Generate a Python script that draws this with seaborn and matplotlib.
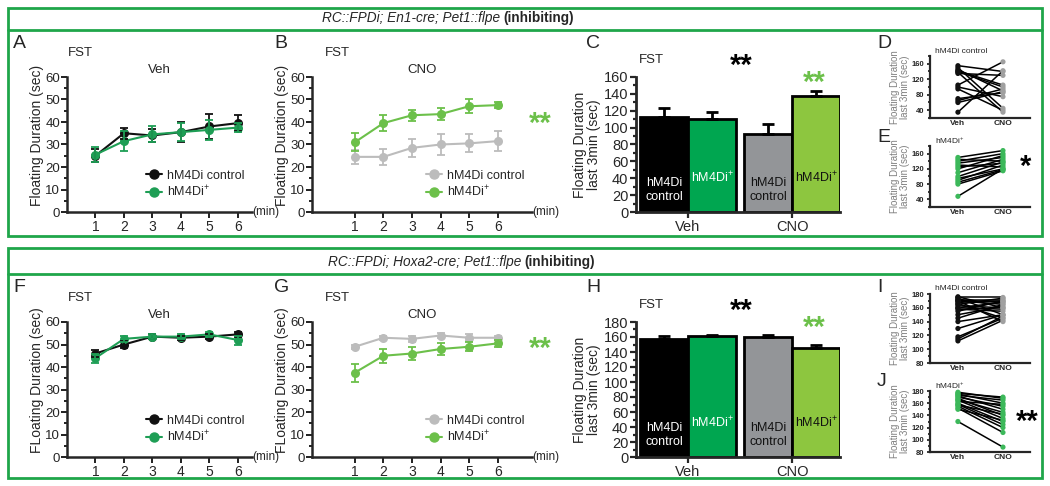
import pandas as pd
import matplotlib
matplotlib.use('Agg')
import matplotlib.pyplot as plt
import seaborn as sns
from matplotlib.lines import Line2D
from matplotlib.patches import Rectangle
from matplotlib.ticker import MultipleLocator
from matplotlib.transforms import blended_transform_factory

sns.set_style('ticks')
plt.rcParams['font.family'] = ['Liberation Sans', 'DejaVu Sans']
plt.rcParams['mathtext.fontset'] = 'custom'
plt.rcParams['mathtext.rm'] = 'Liberation Sans'
plt.rcParams['mathtext.default'] = 'regular'

W, H = 1050, 486

# ---- data ----
minutes = [1, 2, 3, 4, 5, 6]

# A: En1, Veh
a_ctrl = [25, 35, 34, 35.5, 38, 39.5]
a_ctrl_err = [3, 2.5, 3, 4.5, 5.5, 3.5]
a_plus = [25.5, 31.5, 34.5, 35.5, 36.5, 37.5]
a_plus_err = [3.5, 4.5, 3.5, 4, 4.5, 2]
# B: En1, CNO
b_ctrl = [24.5, 24.5, 28.5, 30, 30.5, 31.5]
b_ctrl_err = [3, 3.5, 4, 4.5, 4, 4.5]
b_plus = [31, 39.5, 43, 43.5, 47, 47.5]
b_plus_err = [4, 3.5, 2.5, 2.5, 3, 1.5]
# F: Hoxa2, Veh
f_ctrl = [46, 50, 53.5, 53, 53.5, 54.5]
f_ctrl_err = [1.5, 1.5, 1, 1, 1, 1]
f_plus = [44, 52.5, 53.5, 53.5, 54.5, 52]
f_plus_err = [2, 1.5, 1, 1, 1, 2]
# G: Hoxa2, CNO
g_ctrl = [49, 53, 52.5, 54, 53, 53]
g_ctrl_err = [1, 1, 1.5, 1, 1.5, 1]
g_plus = [37.5, 45, 46, 48, 49, 50.5]
g_plus_err = [4, 3, 3, 2.5, 2, 1.5]

# C / H: last 3 min bars (Veh control, Veh plus, CNO control, CNO plus)
bar_conds = ['Veh', 'Veh', 'CNO', 'CNO']
bar_groups = ['control', 'plus', 'control', 'plus']
c_means = [113, 110, 92, 138]
c_errs = [10, 9, 12, 5]
h_means = [158, 161, 160, 145]
h_errs = [3, 2, 2, 5]

# D/E/I/J: individual animals, Veh -> CNO
d_veh = [155, 150, 145, 142, 140, 138, 135, 105, 100, 95, 70, 65, 60, 35]
d_cno = [140, 45, 90, 105, 100, 35, 130, 165, 75, 40, 85, 95, 88, 142]
e_veh = [150, 145, 140, 135, 130, 125, 120, 110, 100, 95, 90, 85, 80, 48]
e_cno = [168, 140, 160, 150, 125, 135, 155, 145, 138, 120, 130, 118, 115, 120]
i_veh = [176, 175, 174, 172, 171, 170, 168, 166, 165, 163, 160, 158, 155, 150,
         145, 140, 130, 118, 115, 112, 170, 160]
i_cno = [160, 175, 150, 172, 168, 165, 170, 145, 174, 160, 158, 155, 170, 162,
         165, 150, 150, 145, 148, 142, 140, 168]
j_veh = [178, 176, 175, 173, 172, 170, 168, 166, 165, 163, 160, 158, 157, 155,
         152, 150, 130]
j_cno = [168, 170, 160, 165, 150, 155, 140, 145, 135, 158, 130, 125, 142, 120,
         112, 132, 88]

BLACK = '#111111'
DKGREEN = '#1e9e55'
LTGREEN = '#6cc04a'
GRAY = '#bcbcbc'
BOX = '#1fa64a'
PLUS = 'hM4Di$^{+}$'

fig = plt.figure(figsize=(W / 100, H / 100), dpi=100)


def px_axes(l, t, r, b):
    return fig.add_axes([l / W, 1 - b / H, (r - l) / W, (b - t) / H])


def ftext(x, y, s, **kw):
    fig.text(x / W, 1 - y / H, s, **kw)


def style(ax, lw=1.8, size=9, length=4):
    sns.despine(ax=ax)
    for s in ['left', 'bottom']:
        ax.spines[s].set_linewidth(lw)
    ax.tick_params(width=lw * 0.8, length=length, labelsize=size, pad=1.5)
    ax.tick_params(which='minor', width=lw * 0.8, length=length * 0.6)


def time_panel(ax, ctrl, ctrl_err, plus, plus_err, cc, pc, title, ylabel, xlim):
    df = pd.DataFrame({'min': minutes * 2, 'value': ctrl + plus,
                       'group': ['ctrl'] * 6 + ['plus'] * 6})
    sns.lineplot(data=df, x='min', y='value', hue='group',
                 palette={'ctrl': cc, 'plus': pc}, marker='o', markersize=6.5,
                 markeredgewidth=0, linewidth=1.5, legend=False, ax=ax)
    for vals, err, c in [(ctrl, ctrl_err, cc), (plus, plus_err, pc)]:
        ax.errorbar(minutes, vals, yerr=err, fmt='none', ecolor=c,
                    elinewidth=1.3, capsize=3, capthick=1.3)
    ax.set_xlim(*xlim)
    ax.set_ylim(0, 60)
    ax.set_xticks(minutes)
    ax.yaxis.set_major_locator(MultipleLocator(10))
    ax.yaxis.set_minor_locator(MultipleLocator(5))
    style(ax, size=10)
    ax.tick_params(axis='y', pad=1, labelsize=9.5)
    ax.set_xlabel('')
    ax.set_ylabel(ylabel, fontsize=10, labelpad=0.5)
    ax.yaxis.label.set_y(0.57)
    ax.set_title(title, fontsize=9.5, pad=3)
    ax.text(1.0, 0, '(min)', transform=ax.transAxes, fontsize=8.5,
            ha='left', va='center')
    handles = [Line2D([0], [0], color=cc, marker='o', markersize=6.5, lw=1.5),
               Line2D([0], [0], color=pc, marker='o', markersize=6.5, lw=1.5)]
    ax.legend(handles, ['hM4Di control', PLUS], loc='lower right',
              bbox_to_anchor=(1.0, 0.04), frameon=False, fontsize=9,
              handlelength=1.3, handletextpad=0.4, labelspacing=0.2,
              borderaxespad=0.2)


def bar_panel(ax, means, errs, ylim, step):
    df = pd.DataFrame({'cond': bar_conds, 'group': bar_groups, 'value': means,
                       'err': errs})
    order = ['Veh', 'CNO']
    hue_order = ['control', 'plus']
    sns.barplot(data=df, x='cond', y='value', hue='group', order=order,
                hue_order=hue_order, width=0.92, edgecolor='black',
                linewidth=2, errorbar=None, legend=False, ax=ax)
    fills = {('Veh', 'control'): '#000000', ('Veh', 'plus'): '#00a650',
             ('CNO', 'control'): '#939598', ('CNO', 'plus'): '#8dc63f'}
    tcol = {('Veh', 'control'): 'white', ('Veh', 'plus'): 'white',
            ('CNO', 'control'): '#111111', ('CNO', 'plus'): '#111111'}
    trans = blended_transform_factory(ax.transData, ax.transAxes)
    for g, cont in zip(hue_order, ax.containers):
        for cond, bar in zip(order, cont):
            bar.set_facecolor(fills[(cond, g)])
            row = df[(df['cond'] == cond) & (df['group'] == g)].iloc[0]
            xc = bar.get_x() + bar.get_width() / 2
            ax.errorbar([xc], [row['value']], yerr=[[0], [row['err']]],
                        fmt='none', ecolor='black', elinewidth=2, capsize=4,
                        capthick=2, zorder=1)
            if g == 'control':
                ax.text(xc, 0.165, 'hM4Di\ncontrol', transform=trans,
                        ha='center', va='center', fontsize=9,
                        color=tcol[(cond, g)], linespacing=1.2)
            else:
                ax.text(xc, 0.25, PLUS, transform=trans, ha='center',
                        va='center', fontsize=9, color=tcol[(cond, g)])
    ax.set_xlim(-0.5, 1.46)
    ax.set_ylim(*ylim)
    ax.yaxis.set_major_locator(MultipleLocator(step))
    ax.yaxis.set_minor_locator(MultipleLocator(step / 2))
    style(ax, lw=2, size=10.5)
    ax.tick_params(axis='x', labelsize=10.5, pad=2)
    ax.set_xlabel('')
    ax.set_ylabel('Floating Duration\nlast 3min (sec)', fontsize=10,
                  labelpad=2, linespacing=1.0)


def paired_panel(ax, veh, cno, vcol, ccol, ylim, step, title):
    n = len(veh)
    conds = ['Veh', 'CNO']
    df = pd.DataFrame({'subject': list(range(n)) * 2,
                       'cond': ['Veh'] * n + ['CNO'] * n,
                       'value': veh + cno})
    df['x'] = df['cond'].map({c: i for i, c in enumerate(conds)})
    sns.lineplot(data=df, x='x', y='value', units='subject', estimator=None,
                 color='black', lw=1.1, ax=ax)
    sns.scatterplot(data=df, x='x', y='value', hue='cond',
                    palette={'Veh': vcol, 'CNO': ccol}, s=14, linewidth=0,
                    legend=False, ax=ax, zorder=3, clip_on=False)
    ax.set_xlim(-0.62, 1.6)
    ax.set_ylim(*ylim)
    ax.set_xticks([0, 1])
    ax.set_xticklabels(conds)
    ax.yaxis.set_major_locator(MultipleLocator(step))
    ax.yaxis.set_minor_locator(MultipleLocator(step / 2))
    style(ax, lw=1.6, size=5.5, length=2.5)
    ax.tick_params(axis='x', length=0, pad=1.5, labelsize=6)
    for lab in ax.get_xticklabels() + ax.get_yticklabels():
        lab.set_fontweight('bold')
    ax.set_xlabel('')
    ax.set_ylabel('Floating Duration\nlast 3min (sec)', fontsize=7,
                  color='#808080', labelpad=1, linespacing=1.0)
    ax.text(0.05, 1.08, title, transform=ax.transAxes, fontsize=6,
            ha='left', va='center')


# ---- frames and headers ----
for top, bot, hline in [(8, 236, 30), (248, 478, 274)]:
    fig.add_artist(Rectangle((8 / W, 1 - bot / H), 1034 / W, (bot - top) / H,
                             transform=fig.transFigure, fill=False,
                             edgecolor=BOX, lw=2))
    fig.add_artist(Line2D([8 / W, 1042 / W], [1 - hline / H, 1 - hline / H],
                          transform=fig.transFigure, color=BOX, lw=2))

ftext(500, 18, 'RC::FPDi; En1-cre; Pet1::flpe', style='italic', fontsize=9.8,
      ha='right', va='center')
ftext(503, 18, '(inhibiting)', fontweight='bold', fontsize=9.8, ha='left',
      va='center')
ftext(521, 262, 'RC::FPDi; Hoxa2-cre; Pet1::flpe', style='italic',
      fontsize=9.8, ha='right', va='center')
ftext(524, 262, '(inhibiting)', fontweight='bold', fontsize=9.8, ha='left',
      va='center')

for dy, letters in [(0, 'ABCDE'), (245, 'FGHIJ')]:
    for (x, y), L in zip([(13, 43), (274, 43), (586, 43), (877, 43),
                          (877, 137)], letters):
        ftext(x, y + dy, L, fontsize=14, ha='left', va='center')
    for x, y in [(68, 53), (325, 53), (639, 60)]:
        ftext(x, y + dy, 'FST', fontsize=9.5, ha='left', va='center')

# ---- top row ----
ax = px_axes(67, 77, 252, 212)
time_panel(ax, a_ctrl, a_ctrl_err, a_plus, a_plus_err, BLACK, DKGREEN,
           'Veh', 'Floating Duration (sec)', (0, 6.5))
ax = px_axes(312, 77, 532, 212)
time_panel(ax, b_ctrl, b_ctrl_err, b_plus, b_plus_err, GRAY, LTGREEN,
           'CNO', 'Floating Duration (sec)', (-0.5, 7.2))
ax = px_axes(636, 77, 840, 212)
bar_panel(ax, c_means, c_errs, (0, 160), 20)
ax = px_axes(930, 56, 1030, 118)
paired_panel(ax, d_veh, d_cno, BLACK, '#a0a0a0', (20, 180), 40,
             'hM4Di control')
ax = px_axes(930, 146, 1030, 207)
paired_panel(ax, e_veh, e_cno, '#3cb85a', '#3cb85a', (20, 180), 40, PLUS)

# ---- bottom row ----
ax = px_axes(67, 322, 252, 457)
time_panel(ax, f_ctrl, f_ctrl_err, f_plus, f_plus_err, BLACK, DKGREEN,
           'Veh', 'FLoating Duration (sec)', (0, 6.5))
ax = px_axes(312, 322, 532, 457)
time_panel(ax, g_ctrl, g_ctrl_err, g_plus, g_plus_err, GRAY, LTGREEN,
           'CNO', 'FLoating Duration (sec)', (-0.5, 7.2))
ax = px_axes(636, 322, 840, 457)
bar_panel(ax, h_means, h_errs, (0, 180), 20)
ax = px_axes(930, 294, 1030, 363)
paired_panel(ax, i_veh, i_cno, BLACK, '#a0a0a0', (80, 180), 20,
             'hM4Di control')
ax = px_axes(930, 391, 1030, 452)
paired_panel(ax, j_veh, j_cno, '#3cb85a', '#3cb85a', (80, 180), 20, PLUS)

# ---- significance stars ----
star = dict(fontsize=21, fontweight='bold', ha='center', va='center')
ftext(540, 124, '**', color=LTGREEN, **star)
ftext(741, 66, '**', color='black', **star)
ftext(814, 83, '**', color=LTGREEN, **star)
ftext(1026, 167, '*', color='black', **star)
ftext(540, 349, '**', color=LTGREEN, **star)
ftext(741, 311, '**', color='black', **star)
ftext(814, 328, '**', color=LTGREEN, **star)
ftext(1027, 422, '**', color='black', **star)

fig.savefig('out.png', dpi=100)
